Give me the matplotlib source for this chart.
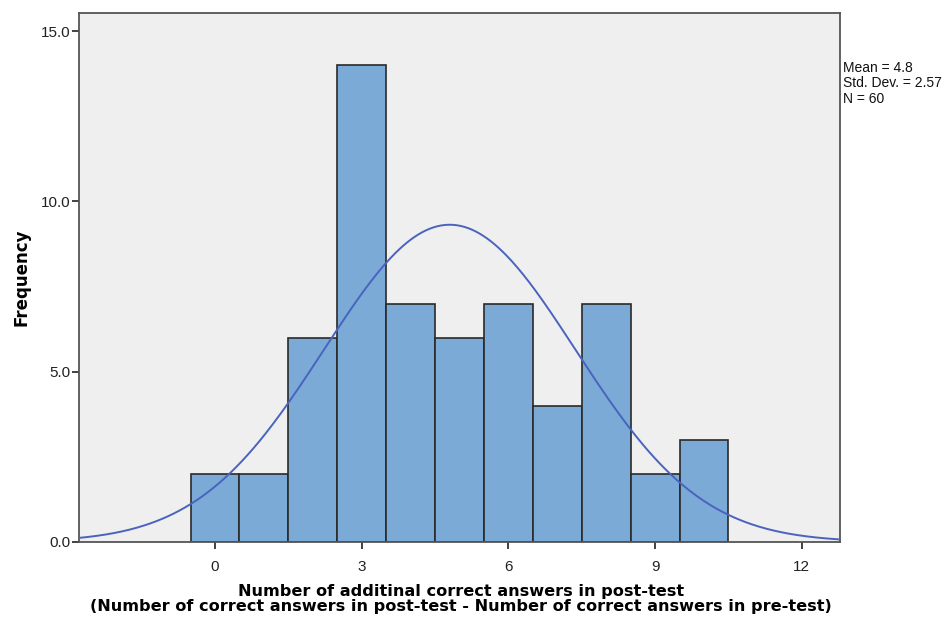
import numpy as np
import matplotlib
matplotlib.use("Agg")
import matplotlib.pyplot as plt

# Histogram data: difference in correct answers (post-test minus pre-test)
scores = [0, 1, 2, 3, 4, 5, 6, 7, 8, 9, 10]
counts = [2, 2, 6, 14, 7, 6, 7, 4, 7, 2, 3]
mean_val = 4.8
std_val = 2.57
n_val = 60
x_ticks = [0, 3, 6, 9, 12]
y_ticks = [0.0, 5.0, 10.0, 15.0]

fig = plt.figure(figsize=(9.45, 6.19), dpi=100)
ax = fig.add_axes([0.0836, 0.1244, 0.8058, 0.8546])
ax.set_facecolor("#EFEFEF")

ax.bar(scores, counts, width=1.0, color="#7BAAD7", edgecolor="#2A2A2A",
       linewidth=1.2, zorder=2)

xs = np.linspace(-2.8, 12.8, 400)
bin_width = 1.0
pdf = n_val * bin_width / (std_val * np.sqrt(2 * np.pi)) * np.exp(-0.5 * ((xs - mean_val) / std_val) ** 2)
ax.plot(xs, pdf, color="#4A63BE", linewidth=1.4, zorder=3)

ax.set_xlim(-2.78, 12.79)
ax.set_ylim(0, 15.53)
ax.set_xticks(x_ticks)
ax.set_xticklabels([str(t) for t in x_ticks], family="Liberation Sans")
ax.set_yticks(y_ticks)
ax.set_yticklabels([f"{t:.1f}" for t in y_ticks], family="Liberation Sans")

for s in ax.spines.values():
    s.set_color("#555555")
    s.set_linewidth(1.3)

ax.tick_params(axis="both", direction="out", length=5, width=1.3, color="#333333",
               labelsize=11, labelcolor="#222222")
ax.tick_params(axis="x", pad=8)
ax.tick_params(axis="y", pad=1)

fig.text(461 / 945, 1 - 599 / 619,
         "Number of additinal correct answers in post-test\n"
         "(Number of correct answers in post-test - Number of correct answers in pre-test)",
         fontsize=11.6, fontweight="bold", family="DejaVu Sans",
         ha="center", va="center", multialignment="center", linespacing=0.95)
fig.text(22 / 945, 0.1244 + 0.8546 / 2, "Frequency",
         fontsize=12, fontweight="bold", family="DejaVu Sans",
         ha="center", va="center", rotation=90)

fig.text(843 / 945, 1 - 61 / 619,
         f"Mean = {mean_val}\nStd. Dev. = {std_val}\nN = {n_val}",
         fontsize=10, family="Liberation Sans", va="top", ha="left",
         linespacing=1.12, color="#111111")

fig.savefig("out.png", dpi=100)
